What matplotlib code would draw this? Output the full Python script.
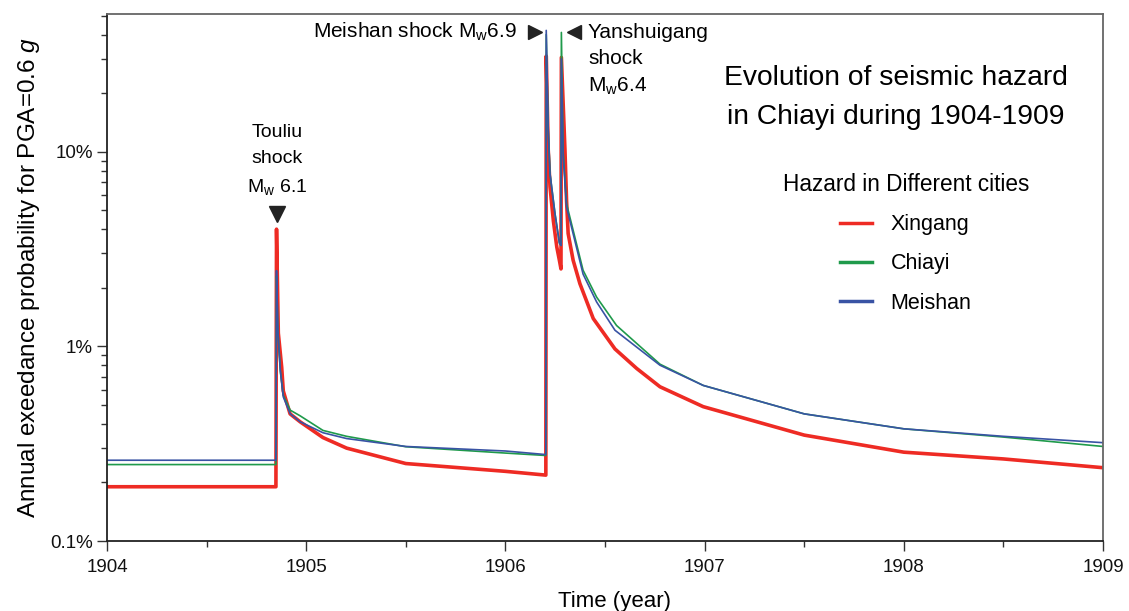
import matplotlib
matplotlib.use("Agg")
import matplotlib.pyplot as plt
from matplotlib.ticker import FixedLocator, LogLocator, NullFormatter
from matplotlib import font_manager

# ---------------- data (percent) ----------------
t_xingang = [1904.0, 1904.848, 1904.851, 1904.86, 1904.877, 1904.885, 1904.919, 1904.969,
             1905.084, 1905.203, 1905.5, 1906.0, 1906.203,
             1906.205, 1906.215, 1906.224, 1906.241, 1906.258, 1906.271, 1906.279,
             1906.281, 1906.299, 1906.307, 1906.315, 1906.34, 1906.374, 1906.441,
             1906.55, 1906.659, 1906.776, 1906.993, 1907.5, 1908.0, 1908.5, 1909.0]
p_xingang = [0.19, 0.19, 4.0, 1.17, 0.78, 0.59, 0.45, 0.41,
             0.34, 0.30, 0.25, 0.228, 0.218,
             31.0, 10.2, 6.6, 4.4, 3.24, 2.77, 2.5,
             30.5, 10.2, 5.6, 3.8, 2.77, 2.1, 1.39,
             0.97, 0.77, 0.62, 0.49, 0.35, 0.286, 0.264, 0.238]

t_chiayi = [1904.0, 1904.848, 1904.851, 1904.858, 1904.87, 1904.885, 1904.92, 1904.969,
            1905.084, 1905.203, 1905.5, 1906.0, 1906.203,
            1906.205, 1906.215, 1906.224, 1906.249, 1906.271, 1906.279,
            1906.281, 1906.29, 1906.307, 1906.39, 1906.458, 1906.558,
            1906.776, 1906.993, 1907.5, 1908.0, 1908.5, 1909.0]
p_chiayi = [0.247, 0.247, 2.3, 1.2, 0.75, 0.56, 0.47, 0.44,
            0.37, 0.345, 0.305, 0.283, 0.275,
            40.0, 13.0, 7.7, 4.8, 3.4, 3.3,
            41.0, 10.0, 5.4, 2.46, 1.79, 1.28,
            0.81, 0.63, 0.45, 0.377, 0.342, 0.306]

t_meishan = [1904.0, 1904.848, 1904.851, 1904.858, 1904.87, 1904.885, 1904.92, 1904.969,
             1905.084, 1905.203, 1905.5, 1906.0, 1906.203,
             1906.205, 1906.215, 1906.224, 1906.249, 1906.271, 1906.279,
             1906.281, 1906.29, 1906.307, 1906.39, 1906.458, 1906.55,
             1906.776, 1906.993, 1907.5, 1908.0, 1908.5, 1909.0]
p_meishan = [0.26, 0.26, 2.45, 1.2, 0.75, 0.55, 0.45, 0.41,
             0.36, 0.336, 0.306, 0.29, 0.278,
             42.0, 13.0, 7.7, 4.8, 3.4, 3.3,
             30.0, 9.5, 5.2, 2.35, 1.69, 1.21,
             0.80, 0.63, 0.45, 0.377, 0.345, 0.32]

series_names = ["Xingang", "Chiayi", "Meishan"]
x_ticks = [1904, 1905, 1906, 1907, 1908, 1909]
y_ticks = [0.1, 1, 10]
y_tick_labels = ["0.1%", "1%", "10%"]

# ---------------- fonts ----------------
avail = {f.name for f in font_manager.fontManager.ttflist}
base_font = "Liberation Sans" if "Liberation Sans" in avail else "DejaVu Sans"
plt.rcParams["font.family"] = [base_font, "DejaVu Sans"]
plt.rcParams["mathtext.fontset"] = "custom"
plt.rcParams["mathtext.rm"] = base_font
plt.rcParams["mathtext.it"] = base_font + ":italic"

fig = plt.figure(figsize=(11.29, 6.11), dpi=100)
ax = fig.add_axes([107/1129, 1 - 541/611, (1103-107)/1129, (541-14)/611])

ax.plot(t_xingang, p_xingang, color="#EE2B24", lw=2.6, label=series_names[0])
ax.plot(t_chiayi, p_chiayi, color="#1F9A4B", lw=1.2, label=series_names[1])
ax.plot(t_meishan, p_meishan, color="#3953A4", lw=1.2, label=series_names[2])

ax.set_yscale("log")
ax.set_xlim(1904, 1909)
ax.set_ylim(0.1, 51)

ax.xaxis.set_major_locator(FixedLocator(x_ticks))
ax.xaxis.set_minor_locator(FixedLocator([x + 0.5 for x in x_ticks[:-1]]))
ax.set_xticklabels([str(x) for x in x_ticks])
ax.yaxis.set_major_locator(FixedLocator(y_ticks))
ax.yaxis.set_minor_locator(LogLocator(base=10, subs=range(2, 10)))
ax.yaxis.set_minor_formatter(NullFormatter())
ax.set_yticklabels(y_tick_labels)

ax.tick_params(axis="both", which="both", direction="out", width=1.0, color="#333333",
               labelsize=13.5, labelcolor="#111111")
ax.tick_params(axis="both", which="major", length=7)
ax.tick_params(axis="both", which="minor", length=4)
ax.tick_params(axis="x", which="major", pad=6)
ax.tick_params(axis="y", which="major", pad=3)

for s in ["left", "bottom"]:
    ax.spines[s].set_color("#222222")
    ax.spines[s].set_linewidth(1.3)
for s in ["top", "right"]:
    ax.spines[s].set_color("#666666")
    ax.spines[s].set_linewidth(1.3)

ax.set_ylabel("Annual exeedance probability for PGA=0.6 $\\mathit{g}$", fontsize=17.5, labelpad=6)
ax.set_xlabel("Time (year)", fontsize=16, labelpad=9)
ax.xaxis.set_label_coords(0.51, -0.095)

leg = ax.legend(loc="center", bbox_to_anchor=(0.802, 0.565), frameon=False,
                title="Hazard in Different cities", title_fontsize=16.3, fontsize=15.5,
                handlelength=1.5, handletextpad=0.85, labelspacing=0.85, borderpad=0)
for h in leg.get_lines():
    h.set_linewidth(2.5)

ax.text(0.792, 0.8425, "Evolution of seismic hazard\nin Chiayi during 1904-1909",
        transform=ax.transAxes, ha="center", va="center", fontsize=20.3, linespacing=1.65)

ax.text(0.1707, 0.722, "Touliu\nshock\nM$_{\\rm w}$ 6.1", transform=ax.transAxes,
        ha="center", va="center", fontsize=14, linespacing=1.65)
ax.plot([0.1707], [0.6205], marker="v", color="#222222", markersize=11,
        transform=ax.transAxes, clip_on=False)

ax.text(0.4116, 0.9658, "Meishan shock M$_{\\rm w}$6.9", transform=ax.transAxes,
        ha="right", va="center", fontsize=15)
ax.plot([0.4297], [0.9658], marker=">", color="#222222", markersize=10.5,
        transform=ax.transAxes, clip_on=False)
ax.plot([0.4689], [0.9658], marker="<", color="#222222", markersize=10.5,
        transform=ax.transAxes, clip_on=False)
ax.text(0.4829, 0.9127, "Yanshuigang\nshock\nM$_{\\rm w}$6.4", transform=ax.transAxes,
        ha="left", va="center", fontsize=15, linespacing=1.45)

fig.savefig("out.png", dpi=100)
